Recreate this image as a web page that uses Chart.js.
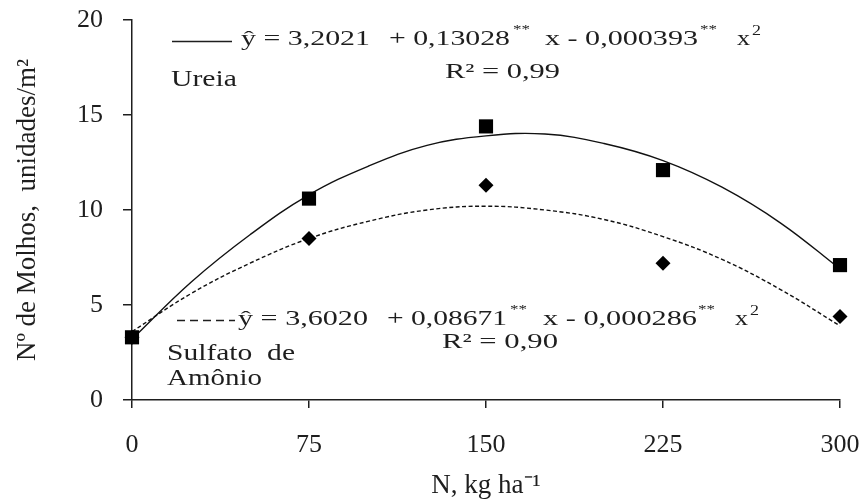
<!DOCTYPE html>
<html><head><meta charset="utf-8">
<script src="https://cdn.jsdelivr.net/npm/chart.js@4/dist/chart.umd.min.js"></script>
<style>html,body{margin:0;padding:0;background:#fff}#wrap{width:865px;height:503px;position:relative}</style>
</head><body><div id="wrap"><canvas id="c" width="865" height="503"></canvas></div>
<script>
// ---- data ----
const doses = [0, 75, 150, 225, 300];
const ureiaObs = [3.3, 10.6, 14.4, 12.1, 7.1];
const sulfatoObs = [3.3, 8.5, 11.3, 7.2, 4.4];
const curveX = [0, 25, 50, 75, 100, 125, 150, 175, 200, 225, 250, 275, 300];
const ureiaFit = [3.2, 6.2, 8.7, 10.8, 12.3, 13.4, 13.9, 14.0, 13.5, 12.6, 11.2, 9.3, 6.9];
const sulfatoFit = [3.6, 5.6, 7.2, 8.5, 9.4, 10.0, 10.2, 10.0, 9.5, 8.6, 7.4, 5.8, 3.9];
const xTicks = [0, 75, 150, 225, 300];
const yTicks = [0, 5, 10, 15, 20];

const pts = (xs, ys) => xs.map((x, i) => ({x, y: ys[i]}));
const FONT = '"Liberation Serif", "Times New Roman", serif';
const INK = '#1e1e1e';

const notes = [
  {t:'ŷ = 3,2021', x:241, y:45, w:129, s:21},
  {t:'+ 0,13028', x:389, y:45, w:121, s:21},
  {t:'**', x:513, y:33, w:17, s:13},
  {t:'x - 0,000393', x:545, y:45, w:153, s:21},
  {t:'**', x:700, y:33, w:17, s:13},
  {t:'x', x:737, y:45, w:13, s:21},
  {t:'2', x:752, y:35, w:9, s:14},
  {t:'R² = 0,99', x:445, y:78, w:115, s:21},
  {t:'Ureia', x:171, y:86, w:66, s:23},
  {t:'ŷ = 3,6020', x:238, y:325, w:130, s:21},
  {t:'+ 0,08671', x:387, y:325, w:120, s:21},
  {t:'**', x:510, y:313, w:17, s:13},
  {t:'x - 0,000286', x:543, y:325, w:154, s:21},
  {t:'**', x:698, y:313, w:17, s:13},
  {t:'x', x:735, y:325, w:13, s:21},
  {t:'2', x:750, y:315, w:9, s:14},
  {t:'R² = 0,90', x:442, y:348, w:116, s:21},
  {t:'Sulfato  de', x:167, y:360, w:128, s:23},
  {t:'Amônio', x:167, y:385, w:95, s:23}
];

const annot = {
  id: 'annot',
  afterDraw(chart) {
    const ctx = chart.ctx;
    ctx.save();
    ctx.fillStyle = INK;
    ctx.textAlign = 'left';
    ctx.textBaseline = 'alphabetic';
    for (const n of notes) {
      ctx.font = n.s + 'px ' + FONT;
      const m = ctx.measureText(n.t).width;
      ctx.save();
      ctx.translate(n.x, n.y);
      ctx.scale(n.w / m, 1);
      ctx.fillText(n.t, 0, 0);
      ctx.restore();
    }
    ctx.strokeStyle = INK;
    ctx.lineWidth = 1.3;
    ctx.beginPath(); ctx.moveTo(172, 41.5); ctx.lineTo(232, 41.5); ctx.stroke();
    ctx.setLineDash([8, 5]);
    ctx.beginPath(); ctx.moveTo(177, 320.5); ctx.lineTo(235, 320.5); ctx.stroke();
    ctx.restore();
  }
};

new Chart(document.getElementById('c'), {
  type: 'scatter',
  data: {
    datasets: [
      {label:'Ureia', data: pts(doses, ureiaObs), pointStyle:'rect', pointRadius:10, pointHoverRadius:10,
       backgroundColor:'#000', borderColor:'#000', borderWidth:0, showLine:false, clip:false, order:0},
      {label:'Sulfato de Amônio', data: pts(doses, sulfatoObs), pointStyle:'rectRot', pointRadius:7.5, pointHoverRadius:7.5,
       backgroundColor:'#000', borderColor:'#000', borderWidth:0, showLine:false, clip:false, order:1},
      {label:'Ureia ajuste', data: pts(curveX, ureiaFit), showLine:true, pointRadius:0, borderColor:'#111',
       borderWidth:1.4, tension:0.4, fill:false, order:2},
      {label:'Sulfato ajuste', data: pts(curveX, sulfatoFit), showLine:true, pointRadius:0, borderColor:'#111',
       borderWidth:1.4, borderDash:[4,2.5], tension:0.4, fill:false, order:3}
    ]
  },
  options: {
    responsive: false,
    animation: false,
    devicePixelRatio: 1,
    layout: {padding: {left: 0, right: 25, top: 20, bottom: 0}},
    plugins: {legend: {display:false}, tooltip: {enabled:false}},
    scales: {
      x: {
        type: 'linear', min: 0, max: 300,
        afterBuildTicks: s => { s.ticks = xTicks.map(v => ({value: v})); },
        afterFit: s => { s.height = 103; s.paddingLeft = 0; s.paddingRight = 0; },
        border: {color: INK, width: 1.5},
        grid: {drawOnChartArea: false, tickLength: 8, color: INK, lineWidth: 1.5},
        ticks: {color: INK, font: {family: FONT, size: 26}, padding: 22, maxRotation: 0},
        title: {display: true, text: 'N, kg ha⁻¹', color: INK, font: {family: FONT, size: 27}, padding: {top: 0, bottom: 1}}
      },
      y: {
        min: 0, max: 20,
        afterBuildTicks: s => { s.ticks = yTicks.map(v => ({value: v})); },
        afterFit: s => { s.width = 132; s.paddingTop = 0; s.paddingBottom = 0; },
        border: {color: INK, width: 1.5},
        grid: {drawOnChartArea: false, tickLength: 9, color: INK, lineWidth: 1.5},
        ticks: {color: INK, font: {family: FONT, size: 26}, padding: 20},
        title: {display: true, text: 'Nº de Molhos,  unidades/m²', color: INK, font: {family: FONT, size: 27}, padding: {top: 12, bottom: 0}}
      }
    }
  },
  plugins: [annot]
});
</script></body></html>
